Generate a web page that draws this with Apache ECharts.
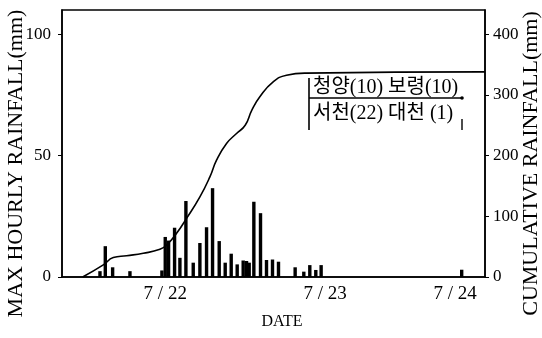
<!DOCTYPE html>
<html>
<head>
<meta charset="utf-8">
<script src="https://cdn.jsdelivr.net/npm/echarts@6/dist/echarts.min.js"></script>
<style>html,body{margin:0;padding:0;background:#fff;}#c{width:542px;height:338px;}</style>
</head>
<body>
<div id="c"></div>
<script>
// Hours counted from 7/21 00:00
var barHours  = [14.2, 15.0, 16.1, 18.7, 23.5, 24.0, 24.5, 25.4, 26.2, 27.1, 28.2, 29.2, 30.2, 31.1, 32.1, 33.0, 33.9, 34.8, 35.7, 36.2, 36.6, 37.3, 38.3, 39.2, 40.1, 41.0, 43.5, 44.8, 45.7, 46.6, 47.4, 68.5];
var barValues = [2.4, 12.7, 4.0, 2.4, 2.7, 16.5, 15.0, 20.3, 7.9, 31.3, 5.9, 14.0, 20.5, 36.6, 14.8, 5.9, 9.6, 5.2, 6.8, 6.6, 5.9, 31.0, 26.3, 7.0, 7.2, 6.3, 4.0, 2.2, 4.9, 2.9, 4.9, 3.0];
var cumHours  = [11.6, 14.7, 16.2, 18.2, 20.7, 23.2, 24.2, 25.7, 27.2, 29.2, 30.7, 31.7, 33.2, 34.7, 36.0, 37.0, 38.2, 40.2, 42.2, 45.2, 72.0];
var cumValues = [0, 20, 32, 35, 39, 45.6, 52.7, 72, 96.6, 132, 165, 192.6, 220, 236.5, 250, 275, 297, 321.5, 332.5, 336, 338];
var tickHours  = [24, 48, 67.5];
var tickLabels = ['7 / 22', '7 / 23', '7 / 24'];
var noteLine1 = '청양(10) 보령(10)';
var noteLine2 = '서천(22) 대천 (1)';

var serif = 'Liberation Serif';
var chart = echarts.init(document.getElementById('c'));
chart.setOption({
  animation: false,
  backgroundColor: '#fff',
  grid: {left: 62, right: 57, top: 10, bottom: 61, outerBoundsMode: 'none', containLabel: false, show: true, borderColor: '#000', borderWidth: 1.5},
  xAxis: {
    type: 'value', min: 8.5, max: 72,
    name: 'DATE', nameLocation: 'middle', nameGap: 37, nameMoveOverlap: false,
    nameTextStyle: {fontFamily: serif, fontSize: 16, color: '#000', padding: [0, 0, 0, 17]},
    axisLine: {lineStyle: {color: '#000', width: 1.5}},
    axisTick: {show: false},
    splitLine: {show: false},
    axisLabel: {
      customValues: tickHours, margin: 8,
      fontFamily: serif, fontSize: 19, color: '#000',
      formatter: function (v) { var i = tickHours.indexOf(v); return i >= 0 ? tickLabels[i] : ''; }
    }
  },
  yAxis: [{
    type: 'value', min: 0, max: 110, interval: 50,
    name: 'MAX HOURLY RAINFALL(mm)', nameLocation: 'middle', nameGap: 35, nameMoveOverlap: false,
    nameTextStyle: {fontFamily: serif, fontSize: 22, color: '#000', padding: [0, 40, 0, 0]},
    axisLine: {show: true, lineStyle: {color: '#000', width: 1.5}},
    axisTick: {show: true, length: 4, lineStyle: {color: '#000'}},
    splitLine: {show: false},
    axisLabel: {showMaxLabel: false, margin: 11, fontFamily: serif, fontSize: 17, color: '#000'}
  }, {
    type: 'value', min: 0, max: 440, interval: 100, position: 'right',
    name: 'CUMULATIVE RAINFALL(mm)', nameLocation: 'middle', nameGap: 35, nameMoveOverlap: false,
    nameTextStyle: {fontFamily: serif, fontSize: 22, color: '#000', padding: [0, 40, 0, 0]},
    axisLine: {show: true, lineStyle: {color: '#000', width: 1.5}},
    axisTick: {show: true, length: 4, lineStyle: {color: '#000'}},
    splitLine: {show: false},
    axisLabel: {showMaxLabel: false, margin: 8, fontFamily: serif, fontSize: 17, color: '#000'}
  }],
  series: [{
    type: 'bar', yAxisIndex: 0, barWidth: 3.4,
    itemStyle: {color: '#000'},
    data: barHours.map(function (h, i) { return [h, barValues[i]]; })
  }, {
    type: 'line', yAxisIndex: 1, smooth: 0.5, showSymbol: false,
    lineStyle: {color: '#000', width: 1.6},
    data: cumHours.map(function (h, i) { return [h, cumValues[i]]; })
  }],
  graphic: [
    {type: 'line', shape: {x1: 309, y1: 78, x2: 309, y2: 130}, style: {stroke: '#000', lineWidth: 1.6}},
    {type: 'line', shape: {x1: 309, y1: 98, x2: 462, y2: 98}, style: {stroke: '#000', lineWidth: 1.6}},
    {type: 'circle', shape: {cx: 462, cy: 98, r: 1.8}, style: {fill: '#000'}},
    {type: 'line', shape: {x1: 462, y1: 119, x2: 462, y2: 130}, style: {stroke: '#000', lineWidth: 1.4}},
    {type: 'text', x: 313, y: 88, style: {text: noteLine1, fontFamily: serif + ', Noto Sans CJK KR', fontSize: 20, fill: '#000', verticalAlign: 'middle'}},
    {type: 'text', x: 313, y: 114, style: {text: noteLine2, fontFamily: serif + ', Noto Sans CJK KR', fontSize: 20, fill: '#000', verticalAlign: 'middle'}}
  ]
});
</script>
</body>
</html>
